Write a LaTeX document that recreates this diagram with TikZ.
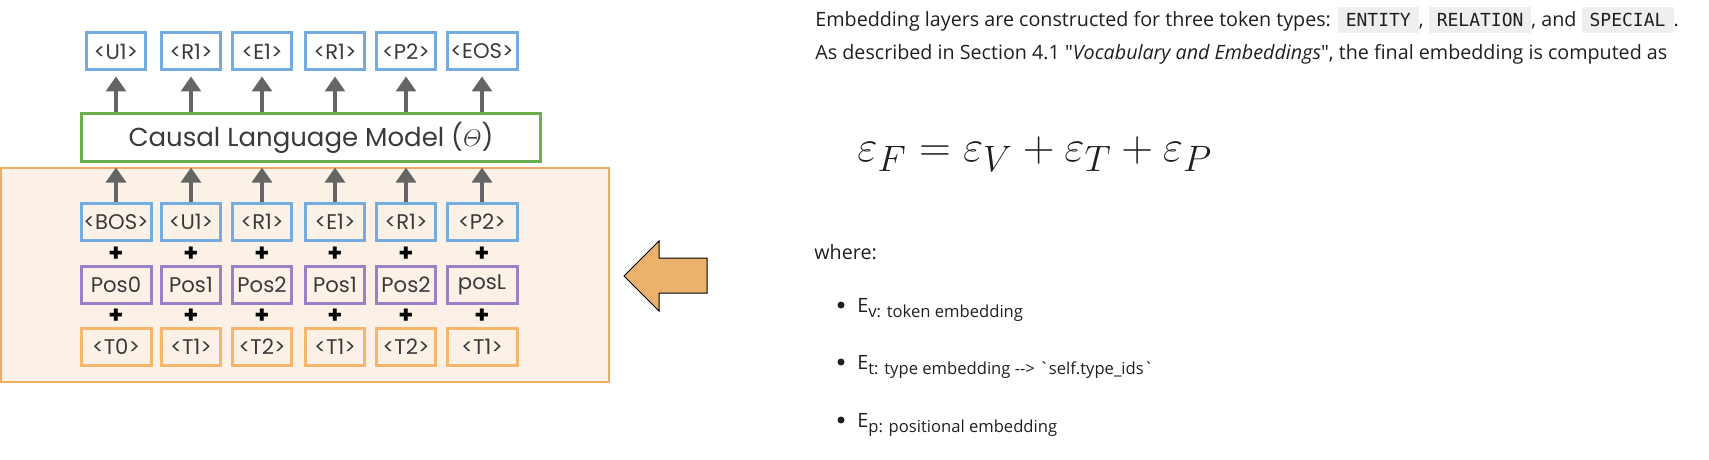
\documentclass[tikz,border=0pt]{standalone}
\usepackage[no-math]{fontspec}
\usepackage{graphicx}
\setmainfont{Open Sans}
\newfontfamily\tokfont{Poppins}
\newfontfamily\notefont{Open Sans}
\newfontfamily\codefont{DejaVu Sans Mono}
\usetikzlibrary{arrows.meta,positioning}
\definecolor{tokblue}{HTML}{74ACDF}
\definecolor{tokpurple}{HTML}{9A80C4}
\definecolor{tokorange}{HTML}{F8B56C}
\definecolor{clmgreen}{HTML}{6AAF4C}
\definecolor{embfill}{HTML}{FCF1E7}
\definecolor{embline}{HTML}{F0AC62}
\definecolor{flowgray}{HTML}{656565}
\definecolor{bigarrow}{HTML}{EBB26E}
\definecolor{codebg}{HTML}{EFEFEF}
\definecolor{tokink}{HTML}{3A3A3A}
\definecolor{noteink}{HTML}{1F1F1F}
\newcommand{\code}[1]{{\setlength{\fboxsep}{0pt}\colorbox{codebg}{\rule[-3pt]{0pt}{13pt}\hspace{4pt}\codefont\fontsize{9}{11}\selectfont #1\hspace{4pt}}}}
\newcommand{\embsub}[1]{\raisebox{-2.5pt}{\fontsize{8.3}{10}\selectfont #1}}
\tikzset{>={Triangle[width=10pt,length=7.5pt]},
  tok/.style={draw,line width=1.5pt,minimum width=29.5pt,minimum height=18.5pt,inner sep=0pt,text=tokink,font=\tokfont\fontsize{10.6}{12}\selectfont},
  widetok/.style={tok,minimum width=35pt},
  outbox/.style={draw=tokblue},inbox/.style={draw=tokblue},posbox/.style={draw=tokpurple},typebox/.style={draw=tokorange},
  plussign/.style={inner sep=0pt,text=black,font=\tokfont\bfseries\fontsize{12}{12}\selectfont},
  flow/.style={->,line width=1.6pt,draw=flowgray,fill=flowgray},
  note/.style={anchor=base west,inner sep=0pt,text=noteink,font=\notefont\fontsize{9.85}{12}\selectfont},
  dot/.style={circle,fill=noteink,inner sep=0pt,minimum size=3.5pt}}
\begin{document}
\begin{tikzpicture}[x=.5pt,y=-.5pt]
\useasboundingbox (0,0) rectangle (1709,460);
\draw[fill=embfill,draw=embline,line width=.8pt] (1,168) rectangle (609,382);
\node[draw=clmgreen,line width=1.65pt,minimum width=229.4pt,minimum height=23.8pt,inner sep=0pt,text=tokink,font=\tokfont\fontsize{13}{14}\selectfont] (clm) at (311,137.5) {Causal Language Model ($\mathnormal{\Theta}$)};
\node[tok,outbox] (o1) at (116,51.5) {<U1>};
\node[tok,outbox] (o2) at (191,51.5) {<R1>};
\node[tok,outbox] (o3) at (262,51.5) {<E1>};
\node[tok,outbox] (o4) at (335,51.5) {<R1>};
\node[tok,outbox] (o5) at (406,51.5) {<P2>};
\node[widetok,outbox] (o6) at (482,51.5) {<EOS>};
\node[widetok,inbox] (i1) at (116,222) {<BOS>};
\node[tok,inbox] (i2) at (191,222) {<U1>};
\node[tok,inbox] (i3) at (262,222) {<R1>};
\node[tok,inbox] (i4) at (335,222) {<E1>};
\node[tok,inbox] (i5) at (406,222) {<R1>};
\node[widetok,inbox] (i6) at (482,222) {<P2>};
\node[widetok,posbox] (p1) at (116,285) {Pos0};
\node[tok,posbox] (p2) at (191,285) {Pos1};
\node[tok,posbox] (p3) at (262,285) {Pos2};
\node[tok,posbox] (p4) at (335,285) {Pos1};
\node[tok,posbox] (p5) at (406,285) {Pos2};
\node[widetok,posbox] (p6) at (482,285) {posL};
\node[widetok,typebox] (t1) at (116,347) {<T0>};
\node[tok,typebox] (t2) at (191,347) {<T1>};
\node[tok,typebox] (t3) at (262,347) {<T2>};
\node[tok,typebox] (t4) at (335,347) {<T1>};
\node[tok,typebox] (t5) at (406,347) {<T2>};
\node[widetok,typebox] (t6) at (482,347) {<T1>};
\node[plussign] (pa1) at (116,254) {+};\node[plussign] (pa2) at (191,254) {+};\node[plussign] (pa3) at (262,254) {+};
\node[plussign] (pa4) at (335,254) {+};\node[plussign] (pa5) at (406,254) {+};\node[plussign] (pa6) at (482,254) {+};
\node[plussign] (pb1) at (116,316) {+};\node[plussign] (pb2) at (191,316) {+};\node[plussign] (pb3) at (262,316) {+};
\node[plussign] (pb4) at (335,316) {+};\node[plussign] (pb5) at (406,316) {+};\node[plussign] (pb6) at (482,316) {+};
\draw[flow,shorten >=2.5pt] (clm.north -| o1) -- (o1.south);\draw[flow,shorten >=2.5pt] (clm.north -| o2) -- (o2.south);
\draw[flow,shorten >=2.5pt] (clm.north -| o3) -- (o3.south);\draw[flow,shorten >=2.5pt] (clm.north -| o4) -- (o4.south);
\draw[flow,shorten >=2.5pt] (clm.north -| o5) -- (o5.south);\draw[flow,shorten >=2.5pt] (clm.north -| o6) -- (o6.south);
\draw[flow,shorten >=2.3pt] (i1.north) -- (i1.north |- clm.south);\draw[flow,shorten >=2.3pt] (i2.north) -- (i2.north |- clm.south);
\draw[flow,shorten >=2.3pt] (i3.north) -- (i3.north |- clm.south);\draw[flow,shorten >=2.3pt] (i4.north) -- (i4.north |- clm.south);
\draw[flow,shorten >=2.3pt] (i5.north) -- (i5.north |- clm.south);\draw[flow,shorten >=2.3pt] (i6.north) -- (i6.north |- clm.south);
\filldraw[fill=bigarrow,draw=black,line width=.5pt] (624,276) -- (659,241) -- (659,258) -- (707,258) -- (707,293) -- (659,293) -- (659,311) -- cycle;
\node[note] (l1) at (815,27) {Embedding layers are constructed for three token types: \code{ENTITY}, \code{RELATION}, and \code{SPECIAL}.};
\node[note] (l2) at (815,60) {As described in Section 4.1 "\textit{Vocabulary and Embeddings}", the final embedding is computed as};
\node[note,font=\fontsize{24.88}{28}\selectfont] (eq) at (857,162) {\scalebox{.886}{$\varepsilon_F=\varepsilon_V+\varepsilon_T+\varepsilon_P$}};
\node[note] (wh) at (814,259) {where:};
\node[dot] (d1) at (841,305) {};\node[dot] (d2) at (841,362) {};\node[dot] (d3) at (841,420) {};
\node[note] (e1) at (857,312) {E\embsub{v: token embedding}};
\node[note] (e2) at (857,369) {E\embsub{t: type embedding --> `self.type\_ids`}};
\node[note] (e3) at (857,427) {E\embsub{p: positional embedding}};
\end{tikzpicture}
\end{document}
